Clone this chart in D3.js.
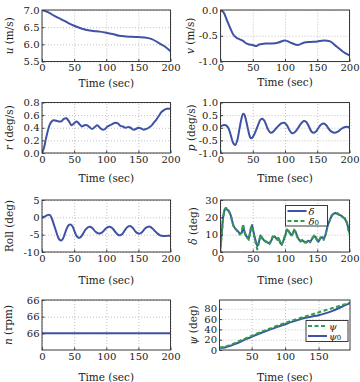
<!DOCTYPE html>
<html><head><meta charset="utf-8">
<script src="https://cdn.jsdelivr.net/npm/d3@7"></script>
<style>
body{margin:0;background:#fff}
svg{display:block}
</style>
</head><body><svg id="c" width="360" height="382"></svg>
<script>
// ---------------- data ----------------
const timeTicks = [0, 50, 100, 150, 200];

const uT = [0,10,20,30,40,50,60,70,80,90,100,110,120,130,140,150,160,170,180,190,200];
const uV = [7.0,6.93,6.82,6.73,6.63,6.54,6.47,6.42,6.39,6.37,6.34,6.3,6.25,6.23,6.22,6.21,6.2,6.16,6.06,5.95,5.8];

const vT = [0,5,10,15,20,25,30,35,40,45,50,55,60,70,80,90,100,110,120,130,140,150,160,170,180,190,200];
const vV = [0,-0.05,-0.2,-0.35,-0.48,-0.54,-0.57,-0.6,-0.65,-0.67,-0.68,-0.7,-0.67,-0.65,-0.65,-0.63,-0.59,-0.64,-0.68,-0.63,-0.62,-0.61,-0.59,-0.61,-0.71,-0.81,-0.88];

const rT = [0,3,6,9,12,15,18,22,26,30,34,38,42,46,50,54,58,62,66,70,74,78,82,86,90,94,98,102,106,110,114,118,122,126,130,134,138,142,146,150,154,158,162,166,170,174,178,182,186,190,194,198,200];
const rV = [0.0,0.08,0.22,0.35,0.45,0.5,0.52,0.51,0.5,0.5,0.54,0.55,0.5,0.44,0.47,0.5,0.46,0.42,0.44,0.44,0.41,0.38,0.41,0.44,0.4,0.37,0.38,0.42,0.44,0.46,0.48,0.47,0.43,0.42,0.4,0.41,0.4,0.37,0.38,0.4,0.39,0.37,0.38,0.4,0.43,0.48,0.53,0.59,0.65,0.68,0.7,0.7,0.7];

const pT = [0,4,8,12,16,20,23,26,29,32,35,37,40,43,46,48,51,55,59,62,65,68,71,74,78,82,86,90,95,99,103,107,111,115,120,125,129,133,137,141,144,148,152,156,160,164,168,172,177,182,187,192,196,200];
const pV = [0.05,0.1,0.1,0.0,-0.3,-0.62,-0.68,-0.5,-0.1,0.3,0.55,0.52,0.25,-0.1,-0.38,-0.42,-0.33,-0.1,0.15,0.32,0.36,0.28,0.1,-0.08,-0.2,-0.15,-0.03,0.08,0.18,0.2,0.1,-0.1,-0.22,-0.18,-0.02,0.17,0.27,0.23,0.05,-0.15,-0.2,-0.15,0.0,0.13,0.17,0.1,-0.05,-0.15,-0.2,-0.15,-0.05,0.02,0.04,0.0];

const rollT = [0,4,8,12,15,18,21,24,27,30,33,36,39,42,45,48,51,54,57,60,64,68,72,75,79,83,87,91,95,99,103,106,110,114,118,121,125,129,133,137,141,145,149,152,156,160,164,168,172,176,180,184,188,192,196,200];
const rollV = [0,0.2,0.6,0.7,-0.2,-1.8,-3.5,-5.2,-6.4,-6.7,-6.0,-4.5,-3.0,-2.2,-2.1,-2.8,-4.2,-5.4,-5.9,-5.7,-4.7,-3.5,-2.8,-2.7,-3.2,-4.1,-4.6,-4.6,-4.1,-3.3,-2.8,-2.7,-3.2,-4.2,-5.0,-5.2,-4.8,-3.7,-2.8,-2.5,-3.0,-4.0,-4.6,-4.7,-4.2,-3.3,-2.8,-2.7,-3.2,-4.0,-4.7,-5.2,-5.4,-5.4,-5.3,-5.3];

const dT = [0,2,4,6,8,10,12,14,16,18,20,22,24,27,30,33,35,37,40,42,44,47,49,51,54,57,59,62,65,68,70,73,76,78,81,84,86,88,90,93,95,97,100,103,106,109,111,114,116,119,122,124,127,130,133,136,139,142,145,147,150,152,155,158,160,163,166,169,172,175,178,181,184,187,190,193,196,198,200];
const deltaV = [3,12,20,24,25,24.5,24,23,21,18,15,14,13,12,10.5,11,15,12,9,8.5,8,13,15.5,12,7,3.5,5,9.5,8,6.5,6,5.5,5,6,8.5,9,8,7.5,8,5,4.5,6,9,13,12,10,10,12.5,12,9,7,6.5,6.5,6,5.5,6.5,6,7.5,9,9,7,6,8,8.5,7.5,10,15,18,20.5,22,22.5,22,21.5,21,20,19,17,14,11];
const delta0V = [2,10,19,24.5,25.5,25,24,22.5,21.5,17.5,15.5,13.5,13,11.5,10,11.5,16,11.5,8.5,8,7,14,15,11,6,1.5,4.5,10,7.5,6,6.5,5,4.5,6.5,9,8.5,8,7,8.5,4.5,4,6.5,9.5,13.5,11.5,10.5,9.5,13,11.5,8.5,7,6,7,5.5,5.5,7,5.5,8,9.5,8.5,6.5,6,8.5,8,7,10.5,15.5,18,21,22,22.5,22.5,21.5,21,20,19.5,16.5,13,10];

const nT = [0,200];
const nV = [66,66];

const psiT = [2,10,20,30,40,50,60,70,80,90,100,110,120,130,140,150,160,170,180,190,197];
const psiV = [5,6.5,11,16.5,22,27.5,33,38,43,48,52.5,57,61,65,69,73,77,81,85,89,92];
const psi0V = [4.5,5,9,14,20,25.5,31,36,41,45.5,50,54.5,58.5,62.5,65,67.5,71,75.5,81,87,91];

// tick labels
const uTicks = [5.5,6.0,6.5,7.0];
const vTicks = [-1.0,-0.5,0.0];
const rTicks = [0.0,0.2,0.4,0.6,0.8];
const pTicks = [-1.0,-0.5,0.0,0.5,1.0];
const rollTicks = [-10,-5,0,5];
const deltaTicks = [0,10,20,30];
const nTicks = [66.0,66.03,66.06];
const psiTicks = [0,20,40,60,80];
const psiTimeTicks = [50,100,150];

// ---------------- drawing ----------------
const FONT = '"DejaVu Serif", "Liberation Serif", serif';
const BLUE = "#3f52a6", GREEN = "#2f9e48", INK = "#1a1a1a";
const svg = d3.select("#c");
const loc = d3.formatLocale({decimal:".", thousands:",", grouping:[3], currency:["",""], minus:"-"});
const f1 = loc.format(".1f"), f0 = loc.format(".0f");

function panel(o){
  const x = d3.scaleLinear().domain(o.xd).range([o.x0, o.x1]);
  const y = d3.scaleLinear().domain(o.yd).range([o.y1, o.y0]);
  const g = svg.append("g");
  const id = "clip" + o.id;
  svg.append("clipPath").attr("id", id).append("rect")
    .attr("x", o.x0).attr("y", o.y0).attr("width", o.x1-o.x0).attr("height", o.y1-o.y0);
  // grid
  const gx = d3.axisBottom(x).tickValues(o.xt).tickSize(-(o.y1-o.y0)).tickFormat("");
  const gy = d3.axisLeft(y).tickValues(o.yt).tickSize(-(o.x1-o.x0)).tickFormat("");
  const gg1 = g.append("g").attr("transform",`translate(0,${o.y1})`).call(gx);
  const gg2 = g.append("g").attr("transform",`translate(${o.x0},0)`).call(gy);
  [gg1,gg2].forEach(s=>{ s.select(".domain").remove();
    s.selectAll("line").attr("stroke","#b0b0b0").attr("stroke-width",0.8).attr("stroke-dasharray","1,2"); });
  // series
  const lg = g.append("g").attr("clip-path",`url(#${id})`);
  o.series.forEach(s=>{
    const pts = s.t.map((t,i)=>[t, s.v[i]]);
    const line = d3.line().x(d=>x(d[0])).y(d=>y(d[1])).curve(s.curve || d3.curveCatmullRom.alpha(0.5));
    lg.append("path").attr("d", line(pts)).attr("fill","none").attr("stroke", s.color)
      .attr("stroke-width", s.w || 2).attr("stroke-dasharray", s.dash || null).attr("stroke-linejoin","round");
  });
  // frame
  g.append("rect").attr("x", o.x0).attr("y", o.y0).attr("width", o.x1-o.x0).attr("height", o.y1-o.y0)
    .attr("fill","none").attr("stroke","#3a3a3a").attr("stroke-width",1);
  // axes with labels
  const ax = d3.axisBottom(x).tickValues(o.xt).tickSize(-2.5).tickPadding(2.5).tickFormat(f0);
  const ay = d3.axisLeft(y).tickValues(o.yt).tickSize(-2.5).tickPadding(2.5).tickFormat(o.fy);
  const a1 = g.append("g").attr("transform",`translate(0,${o.y1})`).call(ax);
  const a2 = g.append("g").attr("transform",`translate(${o.x0},0)`).call(ay);
  [a1,a2].forEach(s=>{ s.select(".domain").remove();
    s.attr("font-family", FONT).attr("font-size", 10);
    s.selectAll("line").attr("stroke","#3a3a3a");
    s.selectAll("text").attr("font-family", FONT).attr("font-size",10).attr("fill",INK); });
  a1.selectAll("text").attr("dy","0.71em");
  // x title
  g.append("text").attr("x",(o.x0+o.x1)/2).attr("y",o.ty).attr("text-anchor","middle")
    .attr("dominant-baseline","central").attr("font-family",FONT).attr("font-size",10.5).attr("fill",INK).text("Time (sec)");
  // y title
  const yt = g.append("text").attr("transform",`translate(${o.lx},${(o.y0+o.y1)/2}) rotate(-90)`)
    .attr("text-anchor","middle").attr("dominant-baseline","central").attr("font-family",FONT).attr("font-size",10.5).attr("fill",INK);
  o.ylab(yt);
  // legend
  if(o.legend){
    const L = o.legend;
    g.append("rect").attr("x",L.x).attr("y",L.y).attr("width",L.w).attr("height",L.h)
      .attr("fill","#fff").attr("stroke","#3a3a3a").attr("stroke-width",1);
    L.items.forEach((it,i)=>{
      const yy = L.y + 5.5 + i*10;
      g.append("line").attr("x1",L.x+2).attr("x2",L.x+21).attr("y1",yy).attr("y2",yy)
        .attr("stroke",it.color).attr("stroke-width",2).attr("stroke-dasharray",it.dash||null);
      const t = g.append("text").attr("x",L.x+23).attr("y",yy).attr("dominant-baseline","central")
        .attr("font-family",FONT).attr("font-size",10).attr("fill",INK);
      t.append("tspan").attr("font-style","italic").text(it.sym);
      if(it.sub) t.append("tspan").attr("font-size",7).attr("dy",2).text(it.sub);
    });
  }
}
function lab(sym, rest){ return t=>{ t.append("tspan").attr("font-style","italic").text(sym); t.append("tspan").text(rest); }; }

const L0 = 42, L1 = 170.5, R0 = 220.5, R1 = 349.5;

panel({id:1, x0:L0, x1:L1, y0:10, y1:61.5, xd:[0,200], yd:[5.5,7.0], xt:timeTicks, yt:uTicks, fy:f1, ty:82.5, lx:9,
  ylab:lab("u"," (m/s)"), series:[{t:uT, v:uV, color:BLUE}]});
panel({id:2, x0:R0, x1:R1, y0:10, y1:61.5, xd:[0,200], yd:[-1.0,0.0], xt:timeTicks, yt:vTicks, fy:f1, ty:82, lx:190,
  ylab:lab("v"," (m/s)"), series:[{t:vT, v:vV, color:BLUE}]});
panel({id:3, x0:L0, x1:L1, y0:102.5, y1:153, xd:[0,200], yd:[0,0.8], xt:timeTicks, yt:rTicks, fy:f1, ty:178, lx:9,
  ylab:lab("r"," (deg/s)"), series:[{t:rT, v:rV, color:BLUE}]});
panel({id:4, x0:R0, x1:R1, y0:102.5, y1:153, xd:[0,200], yd:[-1.0,1.0], xt:timeTicks, yt:pTicks, fy:f1, ty:177.5, lx:191,
  ylab:lab("p"," (deg/s)"), series:[{t:pT, v:pV, color:BLUE}]});
panel({id:5, x0:L0, x1:L1, y0:200, y1:252, xd:[0,200], yd:[-10,5], xt:timeTicks, yt:rollTicks, fy:f0, ty:280, lx:9,
  ylab:t=>t.text("Roll (deg)"), series:[{t:rollT, v:rollV, color:BLUE}]});
panel({id:6, x0:R0, x1:R1, y0:200, y1:252, xd:[0,200], yd:[0,30], xt:timeTicks, yt:deltaTicks, fy:f0, ty:280, lx:193,
  ylab:lab("δ"," (deg)"),
  series:[{t:dT, v:deltaV, color:BLUE, curve:d3.curveLinear},{t:dT, v:delta0V, color:GREEN, dash:"4,2.5", curve:d3.curveLinear}],
  legend:{x:285.5, y:205.5, w:42, h:20.5, items:[{sym:"δ", color:BLUE},{sym:"δ", sub:"0", color:GREEN, dash:"4,2.5"}]}});
panel({id:7, x0:L0, x1:L1, y0:300, y1:350, xd:[0,200], yd:[65.97,66.06], xt:timeTicks, yt:nTicks, fy:f0, ty:376.5, lx:8,
  ylab:lab("n"," (rpm)"), series:[{t:nT, v:nV, color:BLUE, curve:d3.curveLinear}]});
panel({id:8, x0:219.5, x1:350, y0:300, y1:350, xd:[2,197], yd:[0,97], xt:psiTimeTicks, yt:psiTicks, fy:f0, ty:376.5, lx:193,
  ylab:lab("ψ"," (deg)"),
  series:[{t:psiT, v:psi0V, color:BLUE},{t:psiT, v:psiV, color:GREEN, dash:"4,2.5"}],
  legend:{x:306, y:320.5, w:42, h:21, items:[{sym:"ψ", color:GREEN, dash:"4,2.5"},{sym:"ψ", sub:"0", color:BLUE}]}});
</script>
</body></html>
